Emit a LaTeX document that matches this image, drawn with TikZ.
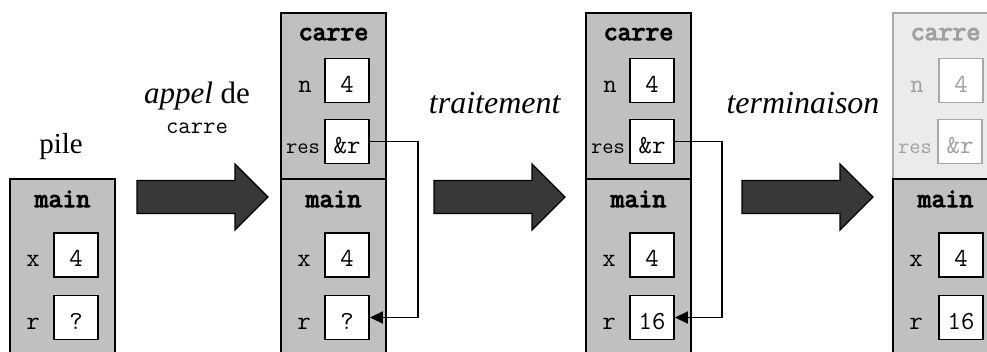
\documentclass[tikz,border=0pt]{standalone}
\usepackage{fontspec}
\setmainfont{Liberation Serif}
\newfontfamily\boldtt{Latin Modern Mono}[FakeBold=4]
\usetikzlibrary{arrows.meta}
\definecolor{framegray}{HTML}{C0C0C0}
\definecolor{fadefill}{HTML}{EBEBEB}
\definecolor{fadeline}{HTML}{A8A8A8}
\definecolor{fadetext}{HTML}{A0A0A0}
\definecolor{arrowdark}{HTML}{383838}
\tikzset{
  section/.style={draw=black, line width=1.5pt, fill=framegray, minimum width=105pt,
    inner sep=0pt, outer sep=0pt, anchor=north west},
  fadesection/.style={section, draw=fadeline, fill=fadefill},
  valbox/.style={draw=black, line width=1.9pt, fill=white, minimum width=44pt, minimum height=44pt,
    inner sep=0pt, text height=23pt, text depth=0pt, font=\fontsize{26}{26}\selectfont\ttfamily},
  fadebox/.style={valbox, draw=fadeline, text=fadetext},
  frametitle/.style={anchor=base, inner sep=0pt, font=\fontsize{27}{27}\selectfont\boldtt},
  varlabel/.style={inner sep=0pt, text height=23pt, text depth=0pt, font=\fontsize{26}{26}\selectfont\ttfamily},
  reslabel/.style={inner sep=0pt, text height=23pt, text depth=0pt, font=\fontsize{22}{22}\selectfont\ttfamily},
  caption/.style={anchor=base, inner sep=0pt, font=\fontsize{31}{31}\selectfont},
  ptr/.style={draw=black, line width=1.9pt, -{Triangle[length=13pt,width=12pt]}},
  bigarrow/.style={fill=arrowdark, draw=black, line width=1.2pt, line join=miter},
  blockarrow/.pic={\path[bigarrow] (0,-16.5) -- (98,-16.5) -- (98,-33) -- (131,0) -- (98,33) -- (98,16.5) -- (0,16.5) -- cycle;}
}
\begin{document}
\begin{tikzpicture}[x=1pt,y=-1pt]
\useasboundingbox (0,0) rectangle (987,351);
\clip (0,0) rectangle (987,351);

% ---------- captions ----------
\node[caption, font=\fontsize{29}{29}\selectfont] (pile) at (61,153) {pile};
\node[caption] (call) at (197,103) {\textit{appel} de};
\node[anchor=base, inner sep=0pt, font=\fontsize{24}{24}\selectfont\ttfamily] (callfn) at (197,133) {carre};
\node[caption, font=\fontsize{32}{32}\selectfont] (trait) at (495,113) {\textit{traitement}};
\node[caption, font=\fontsize{32}{32}\selectfont] (term) at (803,113) {\textit{terminaison}};

% ---------- big arrows ----------
\pic at (137,197) {blockarrow};
\pic at (434,197) {blockarrow};
\pic at (742,197) {blockarrow};

% ---------- frame 1 : main only ----------
\node[section, minimum height=185pt] (main1) at (10,179) {};
\node[frametitle] (main1t) at (62.5,207) {main};
\node[valbox] (x1) at (76,255) {4};
\node[valbox] (r1) at (76,317.5) {?};
\node[varlabel] (x1l) at (33,255) {x};
\node[varlabel] (r1l) at (33,317.5) {r};

% ---------- frame 2 : carre + main ----------
\node[section, minimum height=166pt] (carre2) at (281,13) {};
\node[section, minimum height=185pt] (main2) at (281,179) {};
\node[frametitle] (carre2t) at (333.5,40) {carre};
\node[valbox] (n2) at (347,80.5) {4};
\node[valbox] (res2) at (347,141.5) {\&r};
\node[varlabel] (n2l) at (305,80.5) {n};
\node[reslabel] (res2l) at (303,141.5) {res};
\node[frametitle] (main2t) at (333.5,207) {main};
\node[valbox] (x2) at (347,255) {4};
\node[valbox] (r2) at (347,317.5) {?};
\node[varlabel] (x2l) at (304,255) {x};
\node[varlabel] (r2l) at (304,317.5) {r};
\draw[ptr] (res2.east) -- ++(48,0) |- (r2.east);

% ---------- frame 3 : after processing ----------
\node[section, minimum height=166pt] (carre3) at (586,13) {};
\node[section, minimum height=185pt] (main3) at (586,179) {};
\node[frametitle] (carre3t) at (638.5,40) {carre};
\node[valbox] (n3) at (652,80.5) {4};
\node[valbox] (res3) at (652,141.5) {\&r};
\node[varlabel] (n3l) at (610,80.5) {n};
\node[reslabel] (res3l) at (608,141.5) {res};
\node[frametitle] (main3t) at (638.5,207) {main};
\node[valbox] (x3) at (652,255) {4};
\node[valbox] (r3) at (652,317.5) {16};
\node[varlabel] (x3l) at (609,255) {x};
\node[varlabel] (r3l) at (609,317.5) {r};
\draw[ptr] (res3.east) -- ++(47,0) |- (r3.east);

% ---------- frame 4 : after return ----------
\node[fadesection, minimum height=166pt] (carre4) at (893,13) {};
\node[section, minimum height=185pt] (main4) at (893,179) {};
\node[frametitle, text=fadetext] (carre4t) at (945.5,40) {carre};
\node[fadebox] (n4) at (961,80.5) {4};
\node[fadebox] (res4) at (960,141.5) {\&r};
\node[varlabel, text=fadetext] (n4l) at (917,80.5) {n};
\node[reslabel, text=fadetext] (res4l) at (915,141.5) {res};
\node[frametitle] (main4t) at (945.5,207) {main};
\node[valbox] (x4) at (961,255) {4};
\node[valbox] (r4) at (961,317.5) {16};
\node[varlabel] (x4l) at (916,255) {x};
\node[varlabel] (r4l) at (916,317.5) {r};
\end{tikzpicture}
\end{document}
